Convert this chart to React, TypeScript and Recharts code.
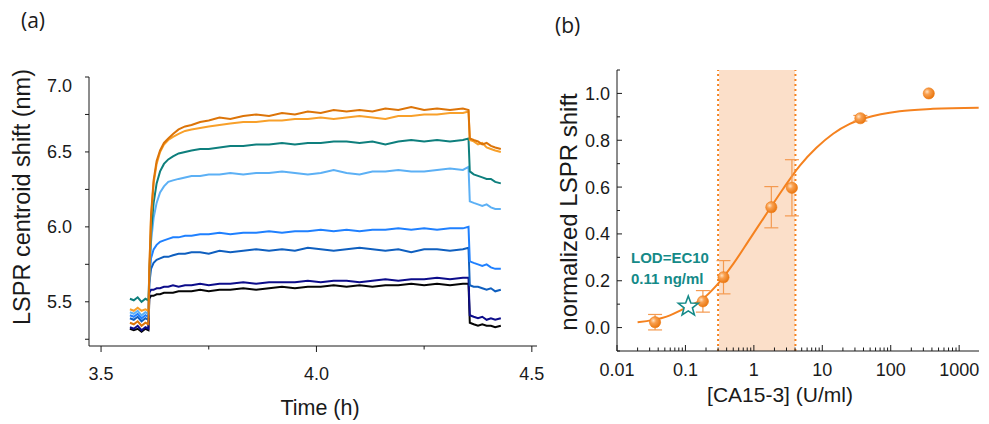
import { ComposedChart, Line, Scatter, XAxis, YAxis, ReferenceArea, ReferenceLine, ErrorBar, Label } from 'recharts'

const FONT = '"Liberation Sans", Arial, sans-serif'
const INK = '#1a1a1a'

// ---------- panel (a): sensorgrams ----------
const TIME = [
  3.567, 3.576, 3.585, 3.594, 3.603, 3.61,
  3.612, 3.616, 3.622, 3.629, 3.637, 3.646, 3.656, 3.667, 3.68, 3.695,
  3.71, 3.73, 3.75, 3.775, 3.8, 3.83, 3.86, 3.89, 3.92, 3.95,
  3.98, 4.01, 4.04, 4.07, 4.1, 4.13, 4.16, 4.19, 4.22, 4.25,
  4.28, 4.31, 4.34, 4.353,
  4.356, 4.365, 4.375, 4.385, 4.395, 4.405, 4.415, 4.428,
]

const BLACK = [
  5.32, 5.31, 5.32, 5.3, 5.32, 5.31,
  5.52, 5.54, 5.54, 5.55, 5.55, 5.56, 5.56, 5.56, 5.57, 5.57,
  5.57, 5.58, 5.57, 5.58, 5.58, 5.59, 5.58, 5.59, 5.6, 5.59,
  5.6, 5.6, 5.61, 5.6, 5.61, 5.6, 5.61, 5.61, 5.62, 5.61,
  5.62, 5.61, 5.62, 5.62,
  5.36, 5.35, 5.34, 5.35, 5.34, 5.34, 5.33, 5.34,
]
const NAVY = [
  5.33, 5.32, 5.34, 5.31, 5.33, 5.32,
  5.56, 5.58, 5.58, 5.59, 5.59, 5.6, 5.6, 5.61, 5.6, 5.61,
  5.61, 5.62, 5.61, 5.62, 5.62, 5.63, 5.62, 5.63, 5.63, 5.63,
  5.64, 5.63, 5.64, 5.64, 5.63, 5.64, 5.65, 5.64, 5.65, 5.65,
  5.66, 5.65, 5.66, 5.66,
  5.41, 5.4, 5.39, 5.4, 5.38, 5.39, 5.38, 5.39,
]
const MIDBLUE = [
  5.39, 5.38, 5.4, 5.37, 5.39, 5.38,
  5.62, 5.72, 5.76, 5.78, 5.79, 5.8, 5.8, 5.81, 5.82, 5.82,
  5.83, 5.83, 5.82, 5.84, 5.83, 5.84, 5.85, 5.84, 5.85, 5.84,
  5.86, 5.85, 5.84, 5.85, 5.86, 5.85, 5.84, 5.85, 5.83, 5.85,
  5.85, 5.84, 5.85, 5.86,
  5.61, 5.6, 5.6, 5.59, 5.58, 5.59, 5.57, 5.58,
]
const BLUE = [
  5.41, 5.4, 5.42, 5.39, 5.41, 5.4,
  5.65, 5.79, 5.85, 5.88, 5.9, 5.91, 5.92, 5.93, 5.93, 5.94,
  5.94, 5.95, 5.95, 5.96, 5.95, 5.96, 5.96, 5.97, 5.96, 5.97,
  5.97, 5.98, 5.97, 5.98, 5.97, 5.98, 5.98, 5.99, 5.98, 5.99,
  5.98, 5.99, 5.99, 6.0,
  5.77, 5.76, 5.75, 5.74, 5.75, 5.73, 5.72, 5.72,
]
const LIGHTBLUE = [
  5.43, 5.42, 5.44, 5.41, 5.43, 5.42,
  5.67, 5.9, 6.06, 6.16, 6.23, 6.27, 6.3, 6.31, 6.32, 6.33,
  6.34, 6.34, 6.35, 6.35, 6.36, 6.35, 6.36, 6.36, 6.37, 6.36,
  6.35, 6.36, 6.38, 6.36, 6.35, 6.37, 6.37, 6.38, 6.37, 6.37,
  6.38, 6.39, 6.38, 6.4,
  6.17, 6.16, 6.15, 6.14, 6.15, 6.13, 6.12, 6.12,
]
const TEAL = [
  5.52, 5.51, 5.53, 5.5, 5.52, 5.51,
  5.69, 5.96, 6.16, 6.29, 6.37, 6.42, 6.45, 6.47, 6.49, 6.5,
  6.51, 6.52, 6.52, 6.53, 6.54, 6.54, 6.55, 6.55, 6.56, 6.55,
  6.56, 6.56, 6.57, 6.57, 6.56, 6.57, 6.55, 6.57, 6.58, 6.57,
  6.58, 6.57, 6.58, 6.59,
  6.37, 6.35, 6.34, 6.33, 6.32, 6.32, 6.3, 6.29,
]
const LIGHTORANGE = [
  5.45, 5.44, 5.46, 5.44, 5.45, 5.44,
  5.71, 6.06, 6.29, 6.42, 6.5, 6.55, 6.58, 6.6, 6.62, 6.64,
  6.65, 6.66, 6.67, 6.68, 6.69, 6.7, 6.7, 6.71, 6.71, 6.72,
  6.72, 6.73, 6.72, 6.73, 6.74, 6.73, 6.72, 6.74, 6.74, 6.75,
  6.75, 6.76, 6.76, 6.77,
  6.58, 6.57, 6.55, 6.56, 6.53, 6.52, 6.51, 6.5,
]
const ORANGE = [
  5.36, 5.35, 5.37, 5.34, 5.36, 5.35,
  5.71, 6.08, 6.31, 6.44, 6.51, 6.56, 6.59, 6.62, 6.65, 6.67,
  6.68, 6.7, 6.71, 6.73, 6.72, 6.74, 6.75, 6.74, 6.76, 6.75,
  6.77, 6.76, 6.78, 6.77, 6.78, 6.77, 6.79, 6.78, 6.8, 6.78,
  6.79, 6.78, 6.79, 6.78,
  6.59, 6.58, 6.57, 6.55, 6.56, 6.54, 6.53, 6.52,
]

const TRACES = [
  { key: 'black', color: '#050505', values: BLACK },
  { key: 'navy', color: '#0c0c8a', values: NAVY },
  { key: 'midblue', color: '#0f5fbf', values: MIDBLUE },
  { key: 'blue', color: '#1f80ff', values: BLUE },
  { key: 'lightblue', color: '#5cb0f5', values: LIGHTBLUE },
  { key: 'teal', color: '#0e7f7d', values: TEAL },
  { key: 'lightorange', color: '#f8a02a', values: LIGHTORANGE },
  { key: 'orange', color: '#dc7408', values: ORANGE },
]

const A_X_TICKS = [3.5, 3.75, 4.0, 4.25, 4.5]
const A_X_MAJOR = [3.5, 4.0, 4.5]
const A_Y_TICKS = [5.25, 5.5, 5.75, 6.0, 6.25, 6.5, 6.75, 7.0]
const A_Y_MAJOR = [5.5, 6.0, 6.5, 7.0]

const sensorRows = TIME.map((t, i) => {
  const row: Record<string, number> = { t }
  TRACES.forEach((tr) => (row[tr.key] = tr.values[i]))
  return row
})

// ---------- panel (b): calibration ----------
const CONC = [0.036, 0.18, 0.36, 1.8, 3.6, 36, 360]
const RESPONSE = [0.023, 0.112, 0.215, 0.514, 0.597, 0.894, 1.0]
const ERROR = [0.033, 0.046, 0.071, 0.088, 0.12, 0.012, 0]

const FIT_X = [0.02, 0.053, 0.11, 0.18, 0.285, 0.5, 0.875, 1.53, 2.68, 4.7, 8.2, 14.4, 25.2, 44.2, 135, 415, 1930]
const FIT_Y = [0.023, 0.047, 0.09, 0.123, 0.18, 0.272, 0.379, 0.486, 0.593, 0.692, 0.768, 0.828, 0.87, 0.896, 0.924, 0.934, 0.939]

const LOD_X = 0.11
const LOD_Y = 0.09
const RANGE_LO = 0.3
const RANGE_HI = 4.05

const B_DECADES = [0.01, 0.1, 1, 10, 100, 1000]
const B_DECADE_LABELS = ['0.01', '0.1', '1', '10', '100', '1000']
const B_MINOR_STEPS = [2, 3, 4, 5, 6, 7, 8, 9]
const B_X_TICKS = [
  ...B_DECADES,
  ...B_DECADES.slice(0, 5).flatMap((d) => B_MINOR_STEPS.map((k) => d * k)),
].sort((a, b) => a - b)
const B_Y_TICKS = [-0.1, 0, 0.1, 0.2, 0.3, 0.4, 0.5, 0.6, 0.7, 0.8, 0.9, 1.0, 1.1]
const B_Y_MAJOR = [0, 0.2, 0.4, 0.6, 0.8, 1.0]

const pointRows = CONC.map((x, i) => ({ x, y: RESPONSE[i], err: ERROR[i] }))
const fitRows = FIT_X.map((x, i) => ({ x, y: FIT_Y[i] }))
const lodRows = [{ x: LOD_X, y: LOD_Y }]

const ORANGE_B = '#f5821f'
const TEAL_B = '#158a88'

const same = (a: number, b: number) => Math.abs(a - b) <= 1e-6 * Math.max(1, Math.abs(b))

type TickOpts = {
  side: 'bottom' | 'left'
  inward: boolean
  major: number[]
  fmt: (v: number) => string
  gap: number
  majorLen: number
  minorLen: number
  shiftTop?: number
}

function makeTick(o: TickOpts) {
  return (p: any) => {
    const v = p.payload.value as number
    const isMajor = o.major.some((m) => same(v, m))
    const len = isMajor ? o.majorLen : o.minorLen
    const label = isMajor ? o.fmt(v) : ''
    if (o.side === 'bottom') {
      const y2 = o.inward ? p.y - len : p.y + len
      return (
        <g>
          <line x1={p.x} y1={p.y} x2={p.x} y2={y2} stroke={INK} strokeWidth={1} />
          {label && (
            <text x={p.x} y={p.y + o.gap} textAnchor="middle" fontSize={18} fontFamily={FONT} fill={INK}>
              {label}
            </text>
          )}
        </g>
      )
    }
    const x2 = o.inward ? p.x + len : p.x - len
    const dy = o.shiftTop && same(v, o.major[o.major.length - 1]) ? o.shiftTop : 0
    return (
      <g>
        <line x1={p.x} y1={p.y} x2={x2} y2={p.y} stroke={INK} strokeWidth={1} />
        {label && (
          <text x={p.x - o.gap} y={p.y + 6.5 + dy} textAnchor="end" fontSize={18} fontFamily={FONT} fill={INK}>
            {label}
          </text>
        )}
      </g>
    )
  }
}

const Ball = (p: any) => (
  <circle cx={p.cx} cy={p.cy} r={5.6} fill="url(#ballGrad)" stroke="#ee7a12" strokeWidth={0.6} />
)

const Star = (p: any) => {
  const pts: string[] = []
  for (let i = 0; i < 10; i++) {
    const r = i % 2 === 0 ? 10.5 : 4.4
    const a = -Math.PI / 2 + (i * Math.PI) / 5
    pts.push(`${p.cx + r * Math.cos(a)},${p.cy + r * Math.sin(a)}`)
  }
  return <polygon points={pts.join(' ')} fill="#fff" stroke={TEAL_B} strokeWidth={1.6} strokeLinejoin="miter" />
}

function PanelA() {
  return (
    <ComposedChart
      width={560}
      height={424}
      data={sensorRows}
      margin={{ top: 77, right: 23, bottom: 28, left: 29 }}
      style={{ position: 'absolute', left: 0, top: 0 }}
    >
      <XAxis
        dataKey="t"
        type="number"
        domain={[3.472, 4.512]}
        allowDataOverflow
        ticks={A_X_TICKS}
        interval={0}
        height={50}
        tickSize={0}
        tickMargin={0}
        tickLine={false}
        axisLine={{ stroke: INK, strokeWidth: 1 }}
        tick={makeTick({ side: 'bottom', inward: false, major: A_X_MAJOR, fmt: (v) => v.toFixed(1), gap: 34, majorLen: 6, minorLen: 3.5 })}
      >
        <Label
          content={() => (
            <text x={320} y={415} textAnchor="middle" fontSize={21.5} fontFamily={FONT} fill={INK}>
              Time (h)
            </text>
          )}
        />
      </XAxis>
      <YAxis
        type="number"
        domain={[5.205, 7.0]}
        allowDataOverflow
        ticks={A_Y_TICKS}
        interval={0}
        width={60}
        tickSize={0}
        tickMargin={0}
        tickLine={false}
        axisLine={{ stroke: INK, strokeWidth: 1 }}
        tick={makeTick({ side: 'left', inward: false, major: A_Y_MAJOR, fmt: (v) => v.toFixed(1), gap: 17, majorLen: 4, minorLen: 4, shiftTop: 8 })}
      >
        <Label
          content={() => (
            <text
              x={22}
              y={197}
              transform="rotate(-90 22 197)"
              textAnchor="middle"
              dominantBaseline="central"
              fontSize={23.5}
              fontFamily={FONT}
              fill={INK}
            >
              LSPR centroid shift (nm)
            </text>
          )}
        />
      </YAxis>
      {TRACES.map((tr) => (
        <Line
          key={tr.key}
          dataKey={tr.key}
          type="linear"
          stroke={tr.color}
          strokeWidth={2}
          dot={false}
          isAnimationActive={false}
        />
      ))}
    </ComposedChart>
  )
}

function PanelB() {
  return (
    <ComposedChart
      width={449}
      height={424}
      margin={{ top: 70, right: 10, bottom: 28, left: 17 }}
      style={{ position: 'absolute', left: 540, top: 0 }}
    >
      <defs>
        <radialGradient id="ballGrad" cx="35%" cy="35%" r="70%">
          <stop offset="0%" stopColor="#ffe2c2" />
          <stop offset="35%" stopColor="#f9a050" />
          <stop offset="100%" stopColor="#e8740c" />
        </radialGradient>
      </defs>
      <XAxis
        dataKey="x"
        type="number"
        scale="log"
        domain={[0.01, 1950]}
        allowDataOverflow
        ticks={B_X_TICKS}
        interval={0}
        height={45}
        tickSize={0}
        tickMargin={0}
        tickLine={false}
        axisLine={{ stroke: INK, strokeWidth: 1 }}
        tick={makeTick({
          side: 'bottom',
          inward: true,
          major: B_DECADES,
          fmt: (v) => B_DECADE_LABELS[B_DECADES.findIndex((d) => same(v, d))],
          gap: 25,
          majorLen: 6,
          minorLen: 3.5,
        })}
      >
        <Label
          content={() => (
            <text x={240} y={402} textAnchor="middle" fontSize={21} fontFamily={FONT} fill={INK}>
              [CA15-3] (U/ml)
            </text>
          )}
        />
      </XAxis>
      <YAxis
        type="number"
        domain={[-0.1, 1.1]}
        allowDataOverflow
        ticks={B_Y_TICKS}
        interval={0}
        width={60}
        tickSize={0}
        tickMargin={0}
        tickLine={false}
        axisLine={{ stroke: INK, strokeWidth: 1 }}
        tick={makeTick({ side: 'left', inward: true, major: B_Y_MAJOR, fmt: (v) => v.toFixed(1), gap: 7, majorLen: 5, minorLen: 3 })}
      >
        <Label
          content={() => (
            <text
              x={28}
              y={212}
              transform="rotate(-90 28 212)"
              textAnchor="middle"
              dominantBaseline="central"
              fontSize={24}
              fontFamily={FONT}
              fill={INK}
            >
              normalized LSPR shift
            </text>
          )}
        />
      </YAxis>
      <ReferenceArea x1={RANGE_LO + 0.01} x2={RANGE_HI - 0.05} fill="#fbdfc9" fillOpacity={1} stroke="none" />
      <ReferenceLine x={RANGE_LO} stroke={ORANGE_B} strokeWidth={2} strokeDasharray="2 3" />
      <ReferenceLine x={RANGE_HI} stroke={ORANGE_B} strokeWidth={2} strokeDasharray="2 3" />
      <Line data={fitRows} dataKey="y" type="monotone" stroke={ORANGE_B} strokeWidth={2} dot={false} isAnimationActive={false} />
      <Scatter data={pointRows} dataKey="y" shape={Ball} isAnimationActive={false}>
        <ErrorBar dataKey="err" direction="y" width={7} stroke="#f49a50" strokeWidth={1.2} />
      </Scatter>
      <Scatter data={lodRows} dataKey="y" shape={Star} isAnimationActive={false} />
    </ComposedChart>
  )
}

export default function App() {
  return (
    <div style={{ position: 'absolute', left: 0, top: 0, width: 989, height: 424, background: '#fff', fontFamily: FONT }}>
      <PanelA />
      <PanelB />
      <div style={{ position: 'absolute', left: 21, top: 6, fontSize: 21, color: INK, fontFamily: '"Open Sans", sans-serif' }}>(a)</div>
      <div style={{ position: 'absolute', left: 555, top: 11, fontSize: 21, color: INK, fontFamily: '"Open Sans", sans-serif' }}>(b)</div>
      <div
        style={{
          position: 'absolute',
          left: 631,
          top: 247,
          fontSize: 15,
          lineHeight: '21px',
          fontWeight: 700,
          color: TEAL_B,
          fontFamily: FONT,
        }}
      >
        LOD=EC10
        <br />
        0.11 ng/ml
      </div>
    </div>
  )
}
